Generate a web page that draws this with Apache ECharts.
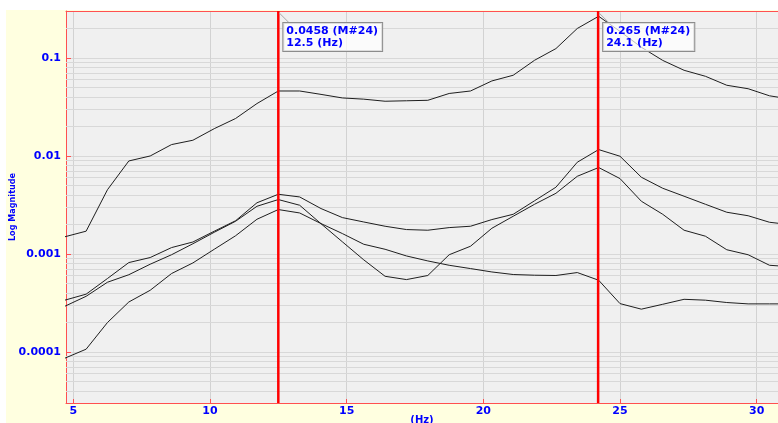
<!DOCTYPE html>
<html>
<head>
<meta charset="utf-8">
<script src="https://cdn.jsdelivr.net/npm/echarts@6/dist/echarts.min.js"></script>
<style>
  html, body { margin: 0; padding: 0; background: #ffffff; }
  #chart { position: absolute; left: 6px; top: 10px; width: 772px; height: 413px; background: #FFFFE0; }
</style>
</head>
<body>
<div id="chart"></div>
<script>
// Frequencies (Hz)
const freqs = [4.6875, 5.46875, 6.25, 7.03125, 7.8125, 8.59375, 9.375, 10.15625, 10.9375, 11.71875,
  12.5, 13.28125, 14.0625, 14.84375, 15.625, 16.40625, 17.1875, 17.96875, 18.75, 19.53125,
  20.3125, 21.09375, 21.875, 22.65625, 23.4375, 24.21875, 25.0, 25.78125, 26.5625, 27.34375,
  28.125, 28.90625, 29.6875, 30.46875, 31.25];

// Magnitudes
const curveA = [0.00149, 0.00170, 0.00450, 0.00885, 0.00995, 0.0130, 0.0144, 0.0189, 0.0240, 0.0341,
  0.0458, 0.0458, 0.0423, 0.0389, 0.0378, 0.0360, 0.0364, 0.0368, 0.0432, 0.0458,
  0.0580, 0.0663, 0.0943, 0.124, 0.199, 0.265, 0.186, 0.128, 0.094, 0.0745,
  0.0647, 0.0524, 0.0483, 0.0409, 0.0378];
const curveB = [0.000336, 0.000387, 0.000559, 0.000813, 0.000915, 0.001156, 0.001318, 0.001698, 0.002173, 0.003313,
  0.004045, 0.003799, 0.002891, 0.002339, 0.002110, 0.001909, 0.001766, 0.001738, 0.001849, 0.001909,
  0.002233, 0.002529, 0.003475, 0.004775, 0.008590, 0.01156, 0.009886, 0.006039, 0.004660, 0.003864,
  0.003199, 0.002652, 0.002443, 0.002096, 0.001977];
const curveC = [0.000291, 0.000368, 0.000512, 0.000611, 0.000782, 0.000977, 0.001265, 0.001656, 0.002147, 0.003052,
  0.003573, 0.003126, 0.002024, 0.001324, 0.000867, 0.000589, 0.000545, 0.000600, 0.000977, 0.001193,
  0.001820, 0.002414, 0.003199, 0.004140, 0.006174, 0.007585, 0.005848, 0.003435, 0.002529, 0.001738,
  0.001510, 0.001099, 0.000977, 0.000763, 0.000737];
const curveD = [0.0000859, 0.0001062, 0.0001987, 0.000322, 0.000424, 0.000628, 0.000806, 0.001111, 0.001527, 0.002249,
  0.002825, 0.002608, 0.002032, 0.001607, 0.001250, 0.001111, 0.000950, 0.000845, 0.000763, 0.000706,
  0.000652, 0.000614, 0.000604, 0.000600, 0.000643, 0.000537, 0.000310, 0.000272, 0.000305, 0.000343,
  0.000336, 0.000318, 0.000308, 0.000308, 0.000308];

// Cursors
const markerX = [12.5, 24.2];
const markerMag = ['0.0458', '0.265'];
const markerFreqText = ['12.5', '24.1'];
const markerTag = 'M#24';

// Axis ranges / tick labels
const xMin = 4.733, xMax = 30.78;
const yMin = 0.00003, yMax = 0.3;
const yTickLabels = { '-4': '0.0001', '-3': '0.001', '-2': '0.01', '-1': '0.1' };
const minorMultipliers = [2, 3, 4, 5, 6, 7, 8, 9];
const decades = [0.00001, 0.0001, 0.001, 0.01, 0.1];

const minorValues = [];
decades.forEach(d => minorMultipliers.forEach(m => {
  const v = +(m * d).toPrecision(3);
  if (v > yMin * 1.001 && v < yMax * 0.999) minorValues.push(v);
}));

const blue = '#0000FF';
const red = '#FF5050';
const labelFont = { color: blue, fontWeight: 'bold', fontSize: 11, fontFamily: 'DejaVu Sans' };

function lineSeries(data) {
  return {
    type: 'line', data: freqs.map((f, i) => [f, data[i]]), symbol: 'none', z: 3,
    lineStyle: { color: '#1e1e1e', width: 1 }, silent: true, animation: false
  };
}

const chart = echarts.init(document.getElementById('chart'), null, { renderer: 'canvas' });
chart.setOption({
  animation: false,
  backgroundColor: 'transparent',
  grid: { left: 60, top: 1, right: 0, bottom: 20, show: true, backgroundColor: '#F0F0F0', borderWidth: 0,
          containLabel: false, outerBoundsMode: 'none' },
  xAxis: [{
    type: 'value', min: xMin, max: xMax, splitNumber: 5,
    name: '(Hz)', nameLocation: 'middle', nameGap: 12, nameMoveOverlap: false,
    nameTextStyle: { color: blue, fontWeight: 'bold', fontSize: 10, fontFamily: 'DejaVu Sans' },
    axisLine: { show: true, lineStyle: { color: red, width: 1 } },
    axisTick: { show: true, inside: true, length: 4, lineStyle: { color: red } },
    axisLabel: Object.assign({ margin: 3, showMinLabel: false, showMaxLabel: false }, labelFont),
    splitLine: { show: true, lineStyle: { color: '#D2D2D2', width: 1 } }
  }, {
    type: 'value', position: 'top', min: xMin, max: xMax,
    axisLine: { show: true, lineStyle: { color: red, width: 1 } },
    axisTick: { show: false }, axisLabel: { show: false }, splitLine: { show: false }
  }],
  yAxis: {
    type: 'log', logBase: 10, min: yMin, max: yMax,
    name: 'Log Magnitude', nameLocation: 'middle', nameGap: 49, nameRotate: 90, nameMoveOverlap: false,
    nameTextStyle: { color: blue, fontWeight: 'bold', fontSize: 9, fontFamily: 'DejaVu Sans Condensed' },
    axisLine: { show: true, lineStyle: { color: red, width: 1 } },
    axisTick: { show: true, inside: true, length: 5, lineStyle: { color: red } },
    axisLabel: Object.assign({
      margin: 5, showMinLabel: false, showMaxLabel: false,
      formatter: v => {
        const e = Math.log10(v);
        const r = Math.round(e);
        return Math.abs(e - r) < 1e-6 && yTickLabels[String(r)] ? yTickLabels[String(r)] : '';
      }
    }, labelFont),
    splitLine: { show: true, lineStyle: { color: '#D8D8D8', width: 1 } }
  },
  series: [
    {
      type: 'custom', z: 1, silent: true,
      data: minorValues.map(v => [v]),
      renderItem: (params, api) => {
        const v = api.value(0);
        const a = api.coord([xMin, v]);
        const b = api.coord([xMax, v]);
        return { type: 'line', shape: { x1: a[0], y1: Math.round(a[1]) + 0.5, x2: b[0], y2: Math.round(b[1]) + 0.5 },
                 style: { stroke: '#D8D8D8', lineWidth: 1 } };
      }
    },
    lineSeries(curveA),
    lineSeries(curveB),
    lineSeries(curveC),
    lineSeries(curveD),
    {
      type: 'custom', z: 10, silent: true,
      data: markerX.map(x => [x]),
      renderItem: (params, api) => {
        const i = params.dataIndex;
        const x = api.value(0);
        const top = api.coord([x, yMax]);
        const bot = api.coord([x, yMin]);
        return {
          type: 'group',
          children: [
            { type: 'line', shape: { x1: top[0], y1: top[1], x2: bot[0], y2: bot[1] },
              style: { stroke: '#FF0000', lineWidth: 2.5 } },
            { type: 'line', shape: { x1: top[0] + 1, y1: top[1] + 2, x2: top[0] + 11, y2: top[1] + 12 },
              style: { stroke: '#A8A8A8', lineWidth: 1 } },
            { type: 'text', x: top[0] + 5, y: top[1] + 12,
              style: {
                text: markerMag[i] + ' (' + markerTag + ')\n' + markerFreqText[i] + ' (Hz)',
                fill: blue, fontWeight: 'bold', fontSize: 11, fontFamily: 'DejaVu Sans',
                lineHeight: 12, align: 'left', verticalAlign: 'top',
                backgroundColor: 'rgba(255,255,255,0.7)', borderColor: '#8C8C8C', borderWidth: 1,
                padding: [2, 4, 2, 3]
              } }
          ]
        };
      }
    }
  ]
});
</script>
</body>
</html>
